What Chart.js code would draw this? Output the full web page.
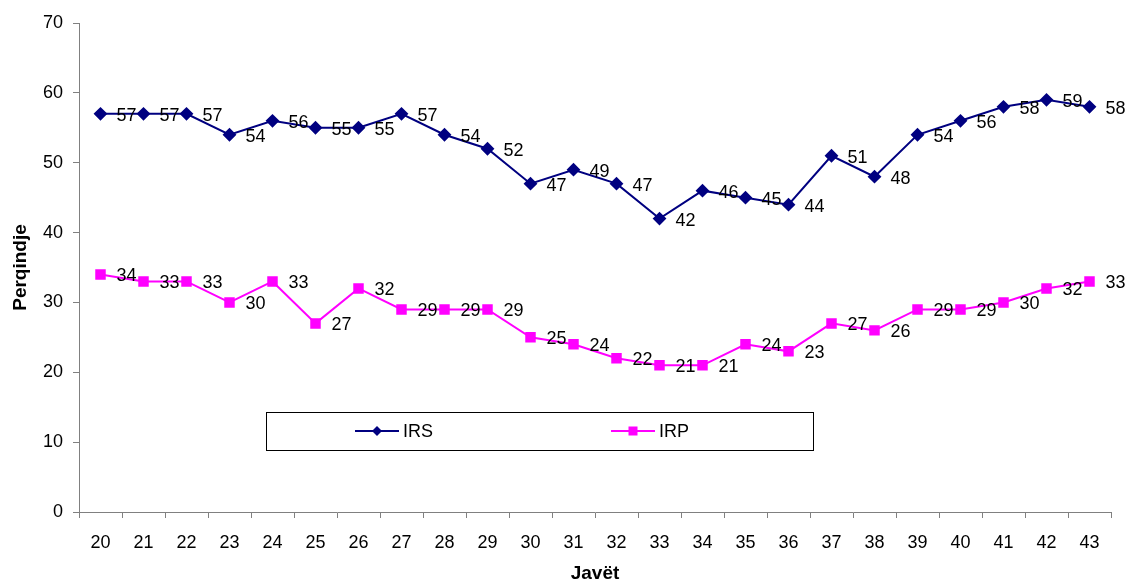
<!DOCTYPE html>
<html>

<head>
    <meta charset="UTF-8">
    <title>IRS / IRP</title>
    <style>
        html, body {
            margin: 0;
            padding: 0;
            background: #ffffff;
        }

        #wrap {
            width: 1130px;
            height: 585px;
        }
    </style>
</head>

<body>
    <div id="wrap">
        <canvas id="lineChart" width="1130" height="585"></canvas>
    </div>
    <script src="https://cdn.jsdelivr.net/npm/chart.js"></script>

    <script>
        const weeks = ["20", "21", "22", "23", "24", "25", "26", "27", "28", "29", "30", "31",
            "32", "33", "34", "35", "36", "37", "38", "39", "40", "41", "42", "43"];
        const irs = [57, 57, 57, 54, 56, 55, 55, 57, 54, 52, 47, 49, 47, 42, 46, 45, 44, 51, 48, 54, 56, 58, 59, 58];
        const irp = [34, 33, 33, 30, 33, 27, 32, 29, 29, 29, 25, 24, 22, 21, 21, 24, 23, 27, 26, 29, 29, 30, 32, 33];
        const yTicks = [0, 10, 20, 30, 40, 50, 60, 70];

        const fontFamily = "'Liberation Sans', Arial, sans-serif";

        // value labels to the right of each point
        const pointLabels = {
            id: "pointLabels",
            afterDatasetsDraw(chart) {
                const ctx = chart.ctx;
                ctx.save();
                ctx.font = "18px " + fontFamily;
                ctx.fillStyle = "#000";
                ctx.textAlign = "left";
                ctx.textBaseline = "middle";
                chart.data.datasets.forEach((ds, i) => {
                    chart.getDatasetMeta(i).data.forEach((pt, j) => {
                        ctx.fillText(ds.data[j], pt.x + 16, pt.y + 2);
                    });
                });
                ctx.restore();
            }
        };

        // boxed legend drawn inside the plot
        const boxLegend = {
            id: "boxLegend",
            afterDraw(chart) {
                const ctx = chart.ctx;
                ctx.save();
                ctx.strokeStyle = "#000";
                ctx.lineWidth = 1;
                ctx.fillStyle = "#fff";
                ctx.fillRect(266.5, 412.5, 547, 38);
                ctx.strokeRect(266.5, 412.5, 547, 38);
                const items = [
                    { x: 355, ds: chart.data.datasets[0] },
                    { x: 611, ds: chart.data.datasets[1] }
                ];
                const y = 431;
                items.forEach((it) => {
                    ctx.strokeStyle = it.ds.borderColor;
                    ctx.lineWidth = 2;
                    ctx.beginPath();
                    ctx.moveTo(it.x, y);
                    ctx.lineTo(it.x + 44, y);
                    ctx.stroke();
                    ctx.fillStyle = it.ds.borderColor;
                    const cx = it.x + 22;
                    if (it.ds.pointStyle === "rectRot") {
                        ctx.beginPath();
                        ctx.moveTo(cx, y - 5);
                        ctx.lineTo(cx + 5, y);
                        ctx.lineTo(cx, y + 5);
                        ctx.lineTo(cx - 5, y);
                        ctx.closePath();
                        ctx.fill();
                    } else {
                        ctx.fillRect(cx - 4.5, y - 4.5, 9, 9);
                    }
                    ctx.fillStyle = "#000";
                    ctx.font = "18px " + fontFamily;
                    ctx.textBaseline = "middle";
                    ctx.fillText(it.ds.label, it.x + 48, y + 1);
                });
                ctx.restore();
            }
        };

        new Chart(document.getElementById("lineChart"), {
            type: "line",
            data: {
                labels: weeks,
                datasets: [
                    {
                        label: "IRS",
                        data: irs,
                        borderColor: "#000080",
                        backgroundColor: "#000080",
                        borderWidth: 2,
                        pointStyle: "rectRot",
                        pointRadius: 5.5,
                        pointHoverRadius: 5.5,
                        tension: 0
                    },
                    {
                        label: "IRP",
                        data: irp,
                        borderColor: "#FF00FF",
                        backgroundColor: "#FF00FF",
                        borderWidth: 2,
                        pointStyle: "rect",
                        pointRadius: 6,
                        pointHoverRadius: 6,
                        tension: 0
                    }
                ]
            },
            options: {
                responsive: false,
                animation: false,
                layout: {
                    padding: { left: 0, top: 23, right: 19, bottom: 0 }
                },
                plugins: {
                    legend: { display: false },
                    tooltip: { enabled: false }
                },
                scales: {
                    x: {
                        offset: true,
                        grid: {
                            offset: true,
                            drawOnChartArea: false,
                            drawTicks: true,
                            tickLength: 6,
                            color: "#808080"
                        },
                        border: { color: "#808080", width: 1 },
                        ticks: {
                            color: "#000",
                            padding: 14,
                            maxRotation: 0,
                            font: { family: fontFamily, size: 18 }
                        },
                        title: {
                            display: true,
                            text: "Javët",
                            color: "#000",
                            padding: { top: 0, bottom: 0 },
                            font: { family: fontFamily, size: 19, weight: "bold" }
                        },
                        afterFit(scale) {
                            scale.height = 73;
                        }
                    },
                    y: {
                        min: 0,
                        max: 70,
                        afterBuildTicks(scale) {
                            scale.ticks = yTicks.map((v) => ({ value: v }));
                        },
                        grid: {
                            drawOnChartArea: false,
                            drawTicks: true,
                            tickLength: 6,
                            color: "#808080"
                        },
                        border: { color: "#808080", width: 1 },
                        ticks: {
                            color: "#000",
                            padding: 10,
                            font: { family: fontFamily, size: 18 }
                        },
                        title: {
                            display: true,
                            text: "Perqindje",
                            color: "#000",
                            padding: { top: 9, bottom: 0 },
                            font: { family: fontFamily, size: 19, weight: "bold" }
                        },
                        afterFit(scale) {
                            scale.width = 79;
                        }
                    }
                }
            },
            plugins: [pointLabels, boxLegend]
        });
    </script>
</body>

</html>
